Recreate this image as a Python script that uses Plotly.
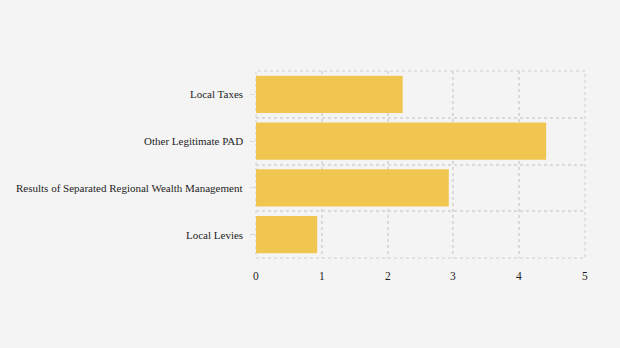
import plotly.graph_objects as go

categories = ["Local Taxes", "Other Legitimate PAD", "Results of Separated Regional Wealth Management", "Local Levies"]
values = [2.23, 4.41, 2.93, 0.93]
x_ticks = [0, 1, 2, 3, 4, 5]

n = len(categories)
ypos = [n - 1 - i for i in range(n)]

GRID = "#DADADA"
FONT = "Times New Roman"
TXT = "#1E1E1E"

fig = go.Figure(go.Bar(
    x=values, y=ypos, orientation="h",
    marker=dict(color="#F0C651", line=dict(width=0)),
    width=0.8,
))

anns = []
for yp, cat in zip(ypos, categories):
    anns.append(dict(xref="paper", yref="y", x=0, y=yp, xanchor="right", yanchor="middle",
                     xshift=-11, text=cat, showarrow=False,
                     font=dict(family=FONT, size=11, color=TXT)))
for xv in x_ticks:
    anns.append(dict(xref="x", yref="paper", x=xv, y=0, xanchor="center", yanchor="top",
                     yshift=-10, text=str(xv), showarrow=False,
                     font=dict(family=FONT, size=11.5, color=TXT)))

fig.update_layout(
    template="none",
    width=620, height=348,
    paper_bgcolor="#F4F4F4", plot_bgcolor="#F4F4F4",
    margin=dict(l=256, r=35, t=71, b=90),
    font=dict(family=FONT, size=11, color=TXT),
    showlegend=False,
    annotations=anns,
    xaxis=dict(
        range=[0, 5], tickvals=x_ticks, showgrid=True, gridcolor=GRID,
        griddash="3px,3px", gridwidth=1.5, zeroline=False, showline=False,
        ticks="", showticklabels=False, automargin=False,
    ),
    yaxis=dict(
        range=[-0.5, n - 0.5], tickvals=ypos,
        showgrid=False, zeroline=False, showline=False,
        ticks="outside", ticklen=5, tickcolor=GRID, tickwidth=1,
        showticklabels=False, automargin=False,
        minor=dict(tickvals=[i - 0.5 for i in range(n + 1)], showgrid=True,
                   gridcolor=GRID, griddash="3px,3px", gridwidth=1.5, ticks=""),
    ),
    shapes=[dict(type="rect", xref="x domain", yref="y domain", x0=0, x1=1, y0=0, y1=1,
                 line=dict(color=GRID, width=1.5, dash="3px,3px"), layer="below")],
)

fig.write_html("out.html")
